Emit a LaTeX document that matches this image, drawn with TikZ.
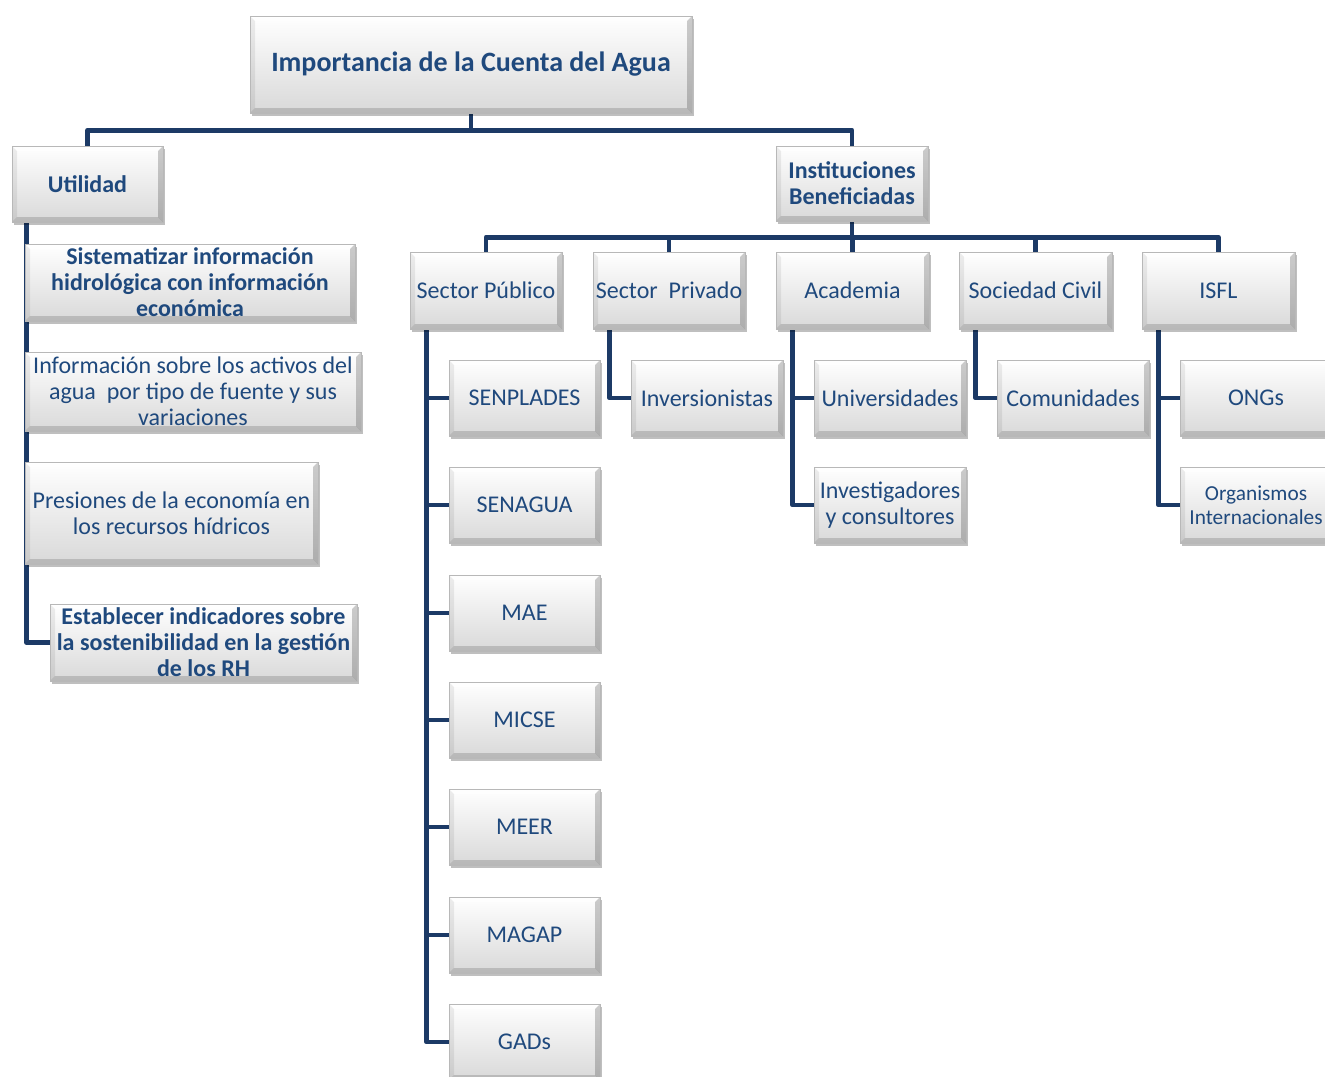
\documentclass[tikz,border=0pt]{standalone}
\usepackage{fontspec}
\setmainfont{Carlito}
\usetikzlibrary{shadows,calc}
\pgfdeclarelayer{bg}
\pgfsetlayers{bg,main}
\definecolor{txtc}{RGB}{31,73,125}
\definecolor{lnc}{RGB}{28,58,102}
\tikzset{
 boxst/.style={draw=black!28, line width=0.4pt, top color=white, bottom color=black!15,
   inner sep=0pt, align=center, text=txtc, font=\fontsize{18}{19.5}\selectfont,
   drop shadow={shadow xshift=1.4pt,shadow yshift=-2pt,opacity=0.25,fill=black},
   path picture={
     \coordinate (nw) at (path picture bounding box.north west);
     \coordinate (ne) at (path picture bounding box.north east);
     \coordinate (sw) at (path picture bounding box.south west);
     \coordinate (se) at (path picture bounding box.south east);
     \fill[white,opacity=0.9] (nw) -- (ne) -- ($(ne)+(-5,5)$) -- ($(nw)+(5,5)$) -- cycle;
     \fill[black,opacity=0.07] (nw) -- (sw) -- ($(sw)+(5,-5)$) -- ($(nw)+(5,5)$) -- cycle;
     \fill[black,opacity=0.20] (ne) -- (se) -- ($(se)+(-5,-5)$) -- ($(ne)+(-5,5)$) -- cycle;
     \fill[black,opacity=0.15] (sw) -- (se) -- ($(se)+(-5,-5)$) -- ($(sw)+(5,-5)$) -- cycle;
   }},
 boldst/.style={font=\fontsize{18}{19.5}\selectfont\bfseries},
 smallst/.style={font=\fontsize{16}{18}\selectfont},
 conn/.style={draw=lnc, line width=3.6pt, line join=round}
}
\newcommand\bx[7][]{\node[boxst,#1,minimum width={(#5-#3)*0.75pt},minimum height={(#6-#4)*0.75pt}] (#2) at ({(#3+#5)/2},{(#4+#6)/2}) {#7};}
\begin{document}
\begin{tikzpicture}[x=0.75pt,y=-0.75pt]
\useasboundingbox (0,0) rectangle (1325,1076);
% top
\bx[font=\fontsize{21}{24}\selectfont\bfseries]{title}{250}{16}{692}{113}{\raisebox{-2pt}{Importancia de la Cuenta del Agua}}
\bx[boldst]{util}{12}{146}{163}{222}{Utilidad}
\bx[boldst]{inst}{776}{146}{928}{221}{Instituciones\\Beneficiadas}
% utilidad children
\bx[boldst]{sist}{25}{244}{355}{321}{Sistematizar información\\hidrológica con información\\económica}
\bx{info}{25}{352}{361}{431}{Información sobre los activos del\\agua~ por tipo de fuente y sus\\variaciones}
\bx{pres}{25}{462}{318}{564}{Presiones de la economía en\\los recursos hídricos}
\bx[boldst]{estab}{50}{604}{357}{681}{Establecer indicadores sobre\\la sostenibilidad en la gestión\\de los RH}
% level 2
\bx{sp}{410}{252}{562}{329}{Sector Público}
\bx{spr}{593}{252}{745}{329}{Sector~ Privado}
\bx{acad}{776}{252}{929}{329}{Academia}
\bx{soc}{959}{252}{1112}{329}{Sociedad Civil}
\bx{isfl}{1142}{252}{1295}{329}{ISFL}
% sector publico
\bx{senplades}{449}{360}{600}{436}{SENPLADES}
\bx{senagua}{449}{467}{600}{543}{SENAGUA}
\bx{mae}{449}{575}{600}{651}{MAE}
\bx{micse}{449}{682}{600}{758}{MICSE}
\bx{meer}{449}{789}{600}{865}{MEER}
\bx{magap}{449}{897}{600}{973}{MAGAP}
\bx{gads}{449}{1004}{600}{1080}{GADs}
% others
\bx{inv}{631}{360}{783}{436}{Inversionistas}
\bx{univ}{814}{360}{966}{436}{Universidades}
\bx{invest}{814}{467}{966}{543}{Investigadores\\y consultores}
\bx{com}{997}{360}{1149}{436}{Comunidades}
\bx{ongs}{1180}{360}{1332}{436}{ONGs}
\bx[smallst]{org}{1180}{467}{1332}{543}{Organismos\\Internacionales}
\begin{pgfonlayer}{bg}
\fill[white] (0,0) rectangle (1325,1076);
\draw[conn] (title.south) -- ++(0,17) -| (util.north);
\draw[conn] (title.south) -- ++(0,17) -| (inst.north);
\foreach \n in {sp,spr,acad,soc,isfl}
  \draw[conn] (inst.south) -- ++(0,16) -| (\n.north);
\draw[conn] ($(util.south west)+(15,0)$) |- (estab.west);
\foreach \n in {senplades,senagua,mae,micse,meer,magap,gads}
  \draw[conn] ($(sp.south west)+(17,0)$) |- (\n.west);
\draw[conn] ($(spr.south west)+(17,0)$) |- (inv.west);
\foreach \n in {univ,invest}
  \draw[conn] ($(acad.south west)+(17,0)$) |- (\n.west);
\draw[conn] ($(soc.south west)+(17,0)$) |- (com.west);
\foreach \n in {ongs,org}
  \draw[conn] ($(isfl.south west)+(17,0)$) |- (\n.west);
\end{pgfonlayer}
\end{tikzpicture}
\end{document}
